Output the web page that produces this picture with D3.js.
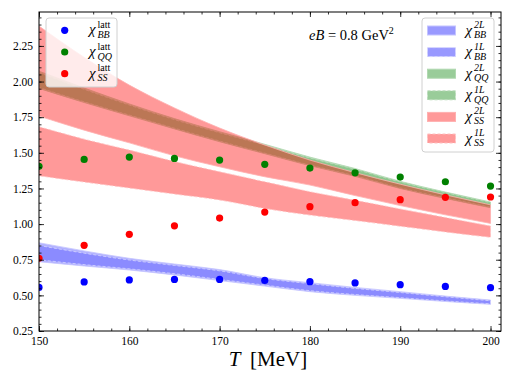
<!DOCTYPE html>
<html>
<head>
<meta charset="utf-8">
<script src="https://cdn.jsdelivr.net/npm/d3@7"></script>
<style>
  body { margin: 0; background: #fff; }
  svg text { font-family: "Liberation Serif", "DejaVu Serif", serif; }
</style>
</head>
<body>
<div id="chart"></div>
<script>
// lattice points
const temps = [150, 155, 160, 165, 170, 175, 180, 185, 190, 195, 200];
const chiBBLatt = [0.556, 0.594, 0.608, 0.612, 0.612, 0.605, 0.596, 0.587, 0.575, 0.563, 0.554];
const chiQQLatt = [1.405, 1.454, 1.470, 1.461, 1.449, 1.419, 1.393, 1.360, 1.330, 1.297, 1.267];
const chiSSLatt = [0.760, 0.851, 0.928, 0.988, 1.042, 1.084, 1.122, 1.150, 1.171, 1.188, 1.190];

// model bands (lower / upper edge) on the same temperature grid
const bandT = [150, 155, 160, 165, 170, 175, 180, 185, 190, 195, 200];
const bb2Lo = [0.736, 0.706, 0.678, 0.643, 0.604, 0.565, 0.526, 0.500, 0.479, 0.457, 0.437];
const bb2Hi = [0.869, 0.812, 0.760, 0.720, 0.681, 0.624, 0.589, 0.556, 0.526, 0.495, 0.467];
const bb1Lo = [0.750, 0.716, 0.686, 0.652, 0.612, 0.572, 0.533, 0.506, 0.484, 0.461, 0.441];
const bb1Hi = [0.850, 0.796, 0.748, 0.710, 0.672, 0.618, 0.582, 0.549, 0.520, 0.490, 0.462];
const qq2Lo = [1.952, 1.853, 1.760, 1.668, 1.578, 1.494, 1.410, 1.335, 1.250, 1.180, 1.115];
const qq2Hi = [2.073, 1.955, 1.843, 1.740, 1.648, 1.560, 1.470, 1.390, 1.300, 1.225, 1.155];
const qq1Lo = [1.958, 1.858, 1.765, 1.673, 1.583, 1.498, 1.414, 1.339, 1.254, 1.184, 1.119];
const qq1Hi = [2.063, 1.946, 1.835, 1.733, 1.641, 1.554, 1.464, 1.385, 1.296, 1.221, 1.151];
const ss2Lo = [1.758, 1.659, 1.570, 1.479, 1.402, 1.332, 1.274, 1.200, 1.130, 1.065, 1.005];
const ss2Hi = [2.389, 2.170, 1.975, 1.815, 1.674, 1.555, 1.449, 1.361, 1.280, 1.205, 1.135];
const ss1Lo = [1.339, 1.295, 1.253, 1.211, 1.169, 1.110, 1.063, 1.025, 0.985, 0.945, 0.907];
const ss1Hi = [1.683, 1.596, 1.519, 1.439, 1.367, 1.297, 1.227, 1.167, 1.106, 1.046, 0.986];

const xTicks = [150, 160, 170, 180, 190, 200];
const yTicks = [0.25, 0.50, 0.75, 1.00, 1.25, 1.50, 1.75, 2.00, 2.25];

const W = 515, H = 386;
const margin = {top: 12, right: 14, bottom: 55, left: 39};
const width = W - margin.left - margin.right,
  height = H - margin.top - margin.bottom;

const svg = d3.select("#chart")
  .append("svg")
  .attr("width", W)
  .attr("height", H);

const g = svg.append("g")
  .attr("transform", `translate(${margin.left},${margin.top})`);

const x = d3.scaleLinear().domain([150, 201.16]).range([0, width]);
const y = d3.scaleLinear().domain([0.25, 2.488]).range([height, 0]);

g.append("clipPath").attr("id", "clip")
  .append("rect").attr("width", width).attr("height", height);

const plot = g.append("g").attr("clip-path", "url(#clip)");

function band(lo, hi, color, alpha, edge, dashed) {
  const rows = bandT.map((t, i) => ({t: t, lo: lo[i], hi: hi[i]}));
  const area = d3.area()
    .curve(d3.curveMonotoneX)
    .x(d => x(d.t))
    .y0(d => y(d.lo))
    .y1(d => y(d.hi));
  plot.append("path")
    .datum(rows)
    .attr("d", area)
    .attr("fill", color)
    .attr("fill-opacity", alpha)
    .attr("stroke", edge)
    .attr("stroke-width", 0.8)
    .attr("stroke-dasharray", dashed ? "3,2" : null);
}

band(bb2Lo, bb2Hi, "blue", 0.3, "#c4c4ff", false);
band(bb1Lo, bb1Hi, "blue", 0.22, "#d4d4ff", true);
band(qq2Lo, qq2Hi, "green", 0.3, "#b0d8b0", false);
band(qq1Lo, qq1Hi, "green", 0.2, "#bcdcbc", true);
band(ss2Lo, ss2Hi, "red", 0.4, "#ffb0b0", false);
band(ss1Lo, ss1Hi, "red", 0.4, "#ffc0c0", true);

const pointSets = [
  {vals: chiBBLatt, color: "blue"},
  {vals: chiQQLatt, color: "green"},
  {vals: chiSSLatt, color: "red"}
];
pointSets.forEach(s => {
  plot.selectAll(null)
    .data(temps.map((t, i) => ({t: t, v: s.vals[i]})))
    .enter().append("circle")
    .attr("cx", d => x(d.t))
    .attr("cy", d => y(d.v))
    .attr("r", 3.6)
    .attr("fill", s.color);
});

// axes with inward ticks on all four sides
const xMinor = d3.range(150, 201.5, 2);
const yMinor = d3.range(0.25, 2.49, 0.05);

function ticks(axisFn, scale, vals, len, withLabels, fmt) {
  const a = axisFn(scale).tickValues(vals).tickSizeInner(-len).tickSizeOuter(0).tickPadding(6);
  if (withLabels) a.tickFormat(fmt); else a.tickFormat("");
  return a;
}

g.append("g").attr("transform", `translate(0,${height})`)
  .call(ticks(d3.axisBottom, x, xTicks, 5, true, d3.format("d")));
g.append("g").attr("transform", `translate(0,${height})`)
  .call(ticks(d3.axisBottom, x, xMinor, 2.5, false));
g.append("g").call(ticks(d3.axisTop, x, xTicks, 5, false));
g.append("g").call(ticks(d3.axisTop, x, xMinor, 2.5, false));

g.append("g").call(ticks(d3.axisLeft, y, yTicks, 5, true, d3.format(".2f")));
g.append("g").call(ticks(d3.axisLeft, y, yMinor, 2.5, false));
g.append("g").attr("transform", `translate(${width},0)`)
  .call(ticks(d3.axisRight, y, yTicks, 5, false));
g.append("g").attr("transform", `translate(${width},0)`)
  .call(ticks(d3.axisRight, y, yMinor, 2.5, false));

g.selectAll(".domain").remove();
g.selectAll("g").attr("font-family", null);
g.selectAll(".tick line").attr("stroke", "#000").attr("stroke-width", 0.8);
g.selectAll(".tick text")
  .attr("font-family", "Liberation Serif")
  .attr("font-size", 11.5)
  .attr("fill", "#000");

g.append("rect")
  .attr("width", width).attr("height", height)
  .attr("fill", "none").attr("stroke", "#000").attr("stroke-width", 1);

// x axis title
const xt = svg.append("text")
  .attr("x", 268).attr("y", 366)
  .attr("text-anchor", "middle")
  .style("font-size", "21px");
xt.append("tspan").style("font-style", "italic").text("T");
xt.append("tspan").text("\u2009 [MeV]");

// eB annotation
const eb = svg.append("text")
  .attr("x", 309).attr("y", 40)
  .style("font-size", "14.5px");
eb.append("tspan").style("font-style", "italic").text("eB");
eb.append("tspan").text(" = 0.8 GeV");
eb.append("tspan").attr("dy", -6).style("font-size", "10px").text("2");

// chi label with stacked super/subscript
function chiLabel(parent, lx, ly, sup, sub, supItalic) {
  parent.append("text").attr("x", lx).attr("y", ly)
    .style("font-size", "15px").style("font-style", "italic").text("\u03c7");
  parent.append("text").attr("x", lx + 8.5).attr("y", ly - 6.5)
    .style("font-size", "10px").style("font-style", supItalic ? "italic" : "normal").text(sup);
  parent.append("text").attr("x", lx + 8.5).attr("y", ly + 3.5)
    .style("font-size", "10px").style("font-style", "italic").text(sub);
}

// legend: lattice
const leg1 = svg.append("g");
leg1.append("rect")
  .attr("x", 46).attr("y", 18).attr("width", 71).attr("height", 69)
  .attr("rx", 3).attr("fill", "#fff").attr("fill-opacity", 0.8)
  .attr("stroke", "#d0d0d0").attr("stroke-width", 1);
const latt = [
  {sub: "BB", color: "blue"},
  {sub: "QQ", color: "green"},
  {sub: "SS", color: "red"}
];
latt.forEach((d, i) => {
  const cy = 30.3 + i * 21.7;
  leg1.append("circle").attr("cx", 64.7).attr("cy", cy).attr("r", 3.6).attr("fill", d.color);
  chiLabel(leg1, 89, cy + 4, "latt", d.sub, false);
});

// legend: model bands
const leg2 = svg.append("g");
leg2.append("rect")
  .attr("x", 422).attr("y", 18).attr("width", 72).attr("height", 134)
  .attr("rx", 3).attr("fill", "#fff").attr("fill-opacity", 0.8)
  .attr("stroke", "#d0d0d0").attr("stroke-width", 1);
const model = [
  {sup: "2L", sub: "BB", color: "blue", edge: "#c4c4ff", dashed: false},
  {sup: "1L", sub: "BB", color: "blue", edge: "#d4d4ff", dashed: true},
  {sup: "2L", sub: "QQ", color: "green", edge: "#b0d8b0", dashed: false},
  {sup: "1L", sub: "QQ", color: "green", edge: "#bcdcbc", dashed: true},
  {sup: "2L", sub: "SS", color: "red", edge: "#ffb0b0", dashed: false},
  {sup: "1L", sub: "SS", color: "red", edge: "#ffc0c0", dashed: true}
];
model.forEach((d, i) => {
  const cy = 30.5 + i * 21.6;
  leg2.append("rect")
    .attr("x", 427.5).attr("y", cy - 4.5).attr("width", 28).attr("height", 9)
    .attr("fill", d.color).attr("fill-opacity", 0.4)
    .attr("stroke", d.edge).attr("stroke-width", 1)
    .attr("stroke-dasharray", d.dashed ? "3,2" : null);
  chiLabel(leg2, 465.5, cy + 4, d.sup, d.sub, true);
});
</script>
</body>
</html>
